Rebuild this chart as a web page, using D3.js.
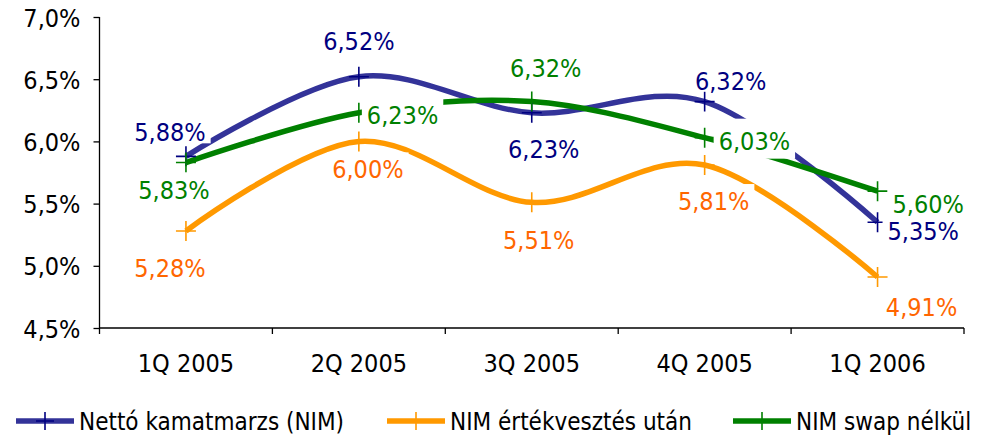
<!DOCTYPE html>
<html>
<head>
<meta charset="utf-8">
<script src="https://cdn.jsdelivr.net/npm/d3@7"></script>
<style>
	body { margin: 0; background: #fff; }
	svg text { font-family: "DejaVu Sans Condensed", "DejaVu Sans", sans-serif; font-stretch: condensed; font-size: 25px; }
	svg .legend text { font-size: 24px; }
</style>
</head>
<body>
<svg id="canvas" width="981" height="437"></svg>
<script>
// chart data
const quarters = ["1Q 2005", "2Q 2005", "3Q 2005", "4Q 2005", "1Q 2006"];
const nim = [5.88, 6.52, 6.23, 6.32, 5.35];
const nimAfterImpairment = [5.28, 6.00, 5.51, 5.81, 4.91];
const nimWithoutSwap = [5.83, 6.23, 6.32, 6.03, 5.60];
const yTicks = [4.5, 5.0, 5.5, 6.0, 6.5, 7.0];
const seriesNames = ["Nettó kamatmarzs (NIM)", "NIM értékvesztés után", "NIM swap nélkül"];

// label placement per point: [dx, dy, anchor, padTop, padBottom]
const nimLabels = [[-16, -24, "middle"], [0, -36, "middle"], [12, 36, "middle"], [26, -21, "middle"], [10, 9, "start"]];
const impLabels = [[-16, 37, "middle"], [9, 28, "middle"], [7, 38, "middle"], [9, 36, "middle"], [44, 30, "middle"]];
const swapLabels = [[-12, 27, "middle"], [8, 2, "start"], [14, -34, "middle"], [14, 3, "start", 22, 18], [15, 13, "start"]];

const series = [
	{ name: seriesNames[0], values: nim, line: "#333399", marker: "#000080", text: "#000080", labels: nimLabels, legendX: 16 },
	{ name: seriesNames[1], values: nimAfterImpairment, line: "#FF9900", marker: "#FF9900", text: "#FF6600", labels: impLabels, legendX: 387 },
	{ name: seriesNames[2], values: nimWithoutSwap, line: "#008000", marker: "#008000", text: "#008000", labels: swapLabels, legendX: 733 }
];

const svg = d3.select("#canvas");
const plotLeft = 99.5, plotRight = 964, plotTop = 17, plotBottom = 328;

const x = d3.scaleBand().domain(quarters).range([plotLeft, plotRight]);
const y = d3.scaleLinear().domain([4.5, 7.0]).range([plotBottom, plotTop]);
const cx = d => x(d) + x.bandwidth() / 2;
const fmt = v => d3.format(".2f")(v).replace(".", ",") + "%";

// y axis
const yAxis = svg.append("g")
	.attr("transform", `translate(${plotLeft},0)`)
	.call(d3.axisLeft(y).tickValues(yTicks).tickSize(6).tickPadding(13)
		.tickFormat(v => d3.format(".1f")(v).replace(".", ",") + "%"));
yAxis.select(".domain").attr("d", `M0,${plotTop}V${plotBottom + 6}`);

// x axis, ticks on the category borders
const xAxis = svg.append("g")
	.attr("transform", `translate(0,${plotBottom})`)
	.call(d3.axisBottom(x).tickSize(0).tickPadding(26));
xAxis.select(".domain").attr("d", `M${plotLeft},0H${plotRight}`);
xAxis.selectAll(".border")
	.data(quarters)
	.join("line")
	.attr("class", "border")
	.attr("x1", d => x(d) + x.bandwidth())
	.attr("x2", d => x(d) + x.bandwidth())
	.attr("y1", 0)
	.attr("y2", 6);

svg.selectAll(".domain, .tick line, .border").attr("stroke", "#000").attr("stroke-width", 1.3);
svg.selectAll(".tick text").attr("fill", "#000").attr("font-size", null).attr("font-family", null);
yAxis.selectAll(".tick text").attr("dy", "0.36em");

// smoothed lines
const line = d3.line()
	.x((d, i) => cx(quarters[i]))
	.y(d => y(d))
	.curve(d3.curveCardinal.tension(0));

series.forEach(s => {
	svg.append("path")
		.attr("d", line(s.values))
		.attr("fill", "none")
		.attr("stroke", s.line)
		.attr("stroke-width", 5.5)
		.attr("stroke-linejoin", "round");
});

// plus markers
function plus(g, px, py, size, color) {
	g.append("path")
		.attr("d", `M${px - size},${py}H${px + size}M${px},${py - size}V${py + size}`)
		.attr("stroke", color)
		.attr("stroke-width", 1.6)
		.attr("fill", "none");
}
series.forEach(s => {
	const g = svg.append("g");
	s.values.forEach((v, i) => plus(g, cx(quarters[i]), y(v), 10, s.marker));
});

// data labels with white boxes
series.forEach(s => {
	const g = svg.append("g");
	s.values.forEach((v, i) => {
		const [dx, dy, anchor, padTop = 17, padBottom = 11] = s.labels[i];
		const mx = cx(quarters[i]) + dx;
		const my = y(v) + dy;
		const box = g.append("rect").attr("fill", "#fff");
		const t = g.append("text")
			.attr("x", mx)
			.attr("y", my + 9)
			.attr("text-anchor", anchor)
			.attr("fill", s.text)
			.text(fmt(v));
		const bb = t.node().getBBox();
		box.attr("x", bb.x - 5)
			.attr("width", bb.width + 10)
			.attr("y", my - padTop)
			.attr("height", padTop + padBottom);
	});
});

// legend
const legendY = 421;
series.forEach(s => {
	const g = svg.append("g").attr("class", "legend");
	g.append("line")
		.attr("x1", s.legendX)
		.attr("x2", s.legendX + 58)
		.attr("y1", legendY)
		.attr("y2", legendY)
		.attr("stroke", s.line)
		.attr("stroke-width", 5.5);
	plus(g, s.legendX + 29, legendY, 9, s.marker);
	g.append("text")
		.attr("x", s.legendX + 63)
		.attr("y", legendY + 8.7)
		.attr("fill", "#000")
		.text(s.name);
});
</script>
</body>
</html>
